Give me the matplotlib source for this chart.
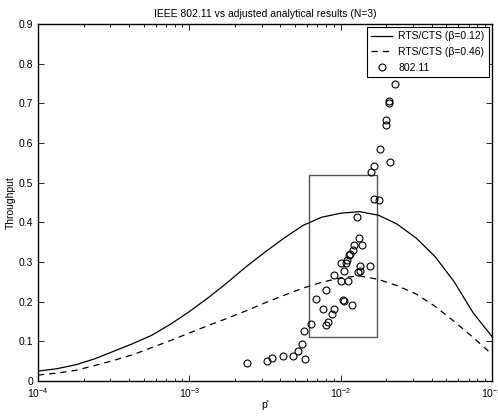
import numpy as np
import matplotlib
matplotlib.use("Agg")
import matplotlib.pyplot as plt
from matplotlib.patches import Rectangle
from matplotlib.ticker import LogLocator, FixedLocator

plt.rcParams['font.family'] = ['Liberation Sans', 'DejaVu Sans']

# analytical curves, read at every 1/8 decade from 1e-4 to 1e-1
log_p = [-4.0, -3.875, -3.75, -3.625, -3.5, -3.375, -3.25, -3.125, -3.0,
         -2.875, -2.75, -2.625, -2.5, -2.375, -2.25, -2.125, -2.0,
         -1.875, -1.75, -1.625, -1.5, -1.375, -1.25, -1.125, -1.0]
thr_b012 = [0.025, 0.031, 0.041, 0.056, 0.075, 0.094, 0.115, 0.143, 0.175,
            0.210, 0.248, 0.288, 0.325, 0.360, 0.392, 0.413, 0.423,
            0.427, 0.418, 0.395, 0.360, 0.313, 0.250, 0.172, 0.112]
thr_b046 = [0.015, 0.020, 0.027, 0.039, 0.052, 0.066, 0.084, 0.102, 0.121,
            0.140, 0.158, 0.177, 0.197, 0.216, 0.234, 0.249, 0.260,
            0.265, 0.256, 0.240, 0.219, 0.188, 0.150, 0.110, 0.067]

# 802.11 simulation points
sim_p = [0.02272, 0.02074, 0.02074, 0.02003, 0.02003, 0.01814, 0.02103, 0.01663,
         0.01594, 0.01661, 0.01781, 0.01278, 0.01317, 0.01217, 0.01379, 0.01199,
         0.01158, 0.01128, 0.01101, 0.01084, 0.01005, 0.01348, 0.01570, 0.01045,
         0.01334, 0.01293, 0.009005, 0.01005, 0.01118, 0.007946, 0.006877, 0.01035,
         0.01045, 0.01188, 0.007594, 0.008974, 0.008733, 0.008218, 0.008032, 0.006342,
         0.005744, 0.005512, 0.005219, 0.004822, 0.004173, 0.003518, 0.003245,
         0.005788, 0.002419]
sim_thr = [0.750, 0.706, 0.701, 0.658, 0.645, 0.585, 0.553, 0.541,
           0.526, 0.460, 0.4575, 0.4127, 0.3617, 0.3428, 0.3423, 0.330,
           0.320, 0.3176, 0.305, 0.298, 0.2967, 0.2906, 0.2906, 0.278,
           0.278, 0.274, 0.268, 0.2526, 0.2526, 0.230, 0.206, 0.204,
           0.201, 0.192, 0.181, 0.182, 0.169, 0.149, 0.1424, 0.1432,
           0.1253, 0.0933, 0.0761, 0.0638, 0.0623, 0.0592, 0.0512,
           0.0562, 0.0461]

# highlighted region
box_p = [0.0062, 0.0175]
box_thr = [0.11, 0.52]

p = 10.0 ** np.array(log_p)

fig = plt.figure(figsize=(4.98, 4.16), dpi=100)
ax = fig.add_axes([0.0763, 0.0841, 0.9117, 0.8582])

ax.plot(p, thr_b012, color='black', lw=0.9, label='RTS/CTS (\u03b2=0.12)')
ax.plot(p, thr_b046, color='black', lw=0.9, linestyle=(0, (5, 4)),
        label='RTS/CTS (\u03b2=0.46)')
ax.plot(sim_p, sim_thr, linestyle='none', marker='o', markersize=5,
        markerfacecolor='none', markeredgecolor='black', markeredgewidth=0.8,
        label='802.11')

ax.add_patch(Rectangle((box_p[0], box_thr[0]), box_p[1] - box_p[0],
                       box_thr[1] - box_thr[0], fill=False,
                       edgecolor='#555555', lw=1.0))

ax.set_xscale('log')
ax.set_xlim(1e-4, 1e-1)
ax.set_ylim(0, 0.9)
ax.yaxis.set_major_locator(FixedLocator(np.arange(0, 0.91, 0.1)))
ax.set_yticklabels(['0', '0.1', '0.2', '0.3', '0.4', '0.5', '0.6', '0.7', '0.8', '0.9'])
ax.xaxis.set_major_locator(LogLocator(base=10, numticks=10))
ax.xaxis.set_minor_locator(LogLocator(base=10, subs=np.arange(2, 10), numticks=20))

ax.tick_params(which='both', direction='in', top=True, right=True, labelsize=7.5,
               width=0.6)
ax.tick_params(which='major', length=4)
ax.tick_params(which='minor', length=2.2)
for s in ax.spines.values():
    s.set_linewidth(1.0)

ax.set_title('IEEE 802.11 vs adjusted analytical results (N=3)', fontsize=7.5, pad=5)
ax.set_xlabel("p'", fontsize=7.5, labelpad=0)
ax.set_ylabel('Throughput', fontsize=7.5, labelpad=2)

leg = ax.legend(loc='upper right', fontsize=7.5, frameon=True, fancybox=False,
                edgecolor='black', framealpha=1, borderpad=0.45, labelspacing=0.55,
                handlelength=2.0, borderaxespad=0.25, handletextpad=0.6)
leg.get_frame().set_linewidth(0.8)

fig.savefig('out.png', dpi=100)
